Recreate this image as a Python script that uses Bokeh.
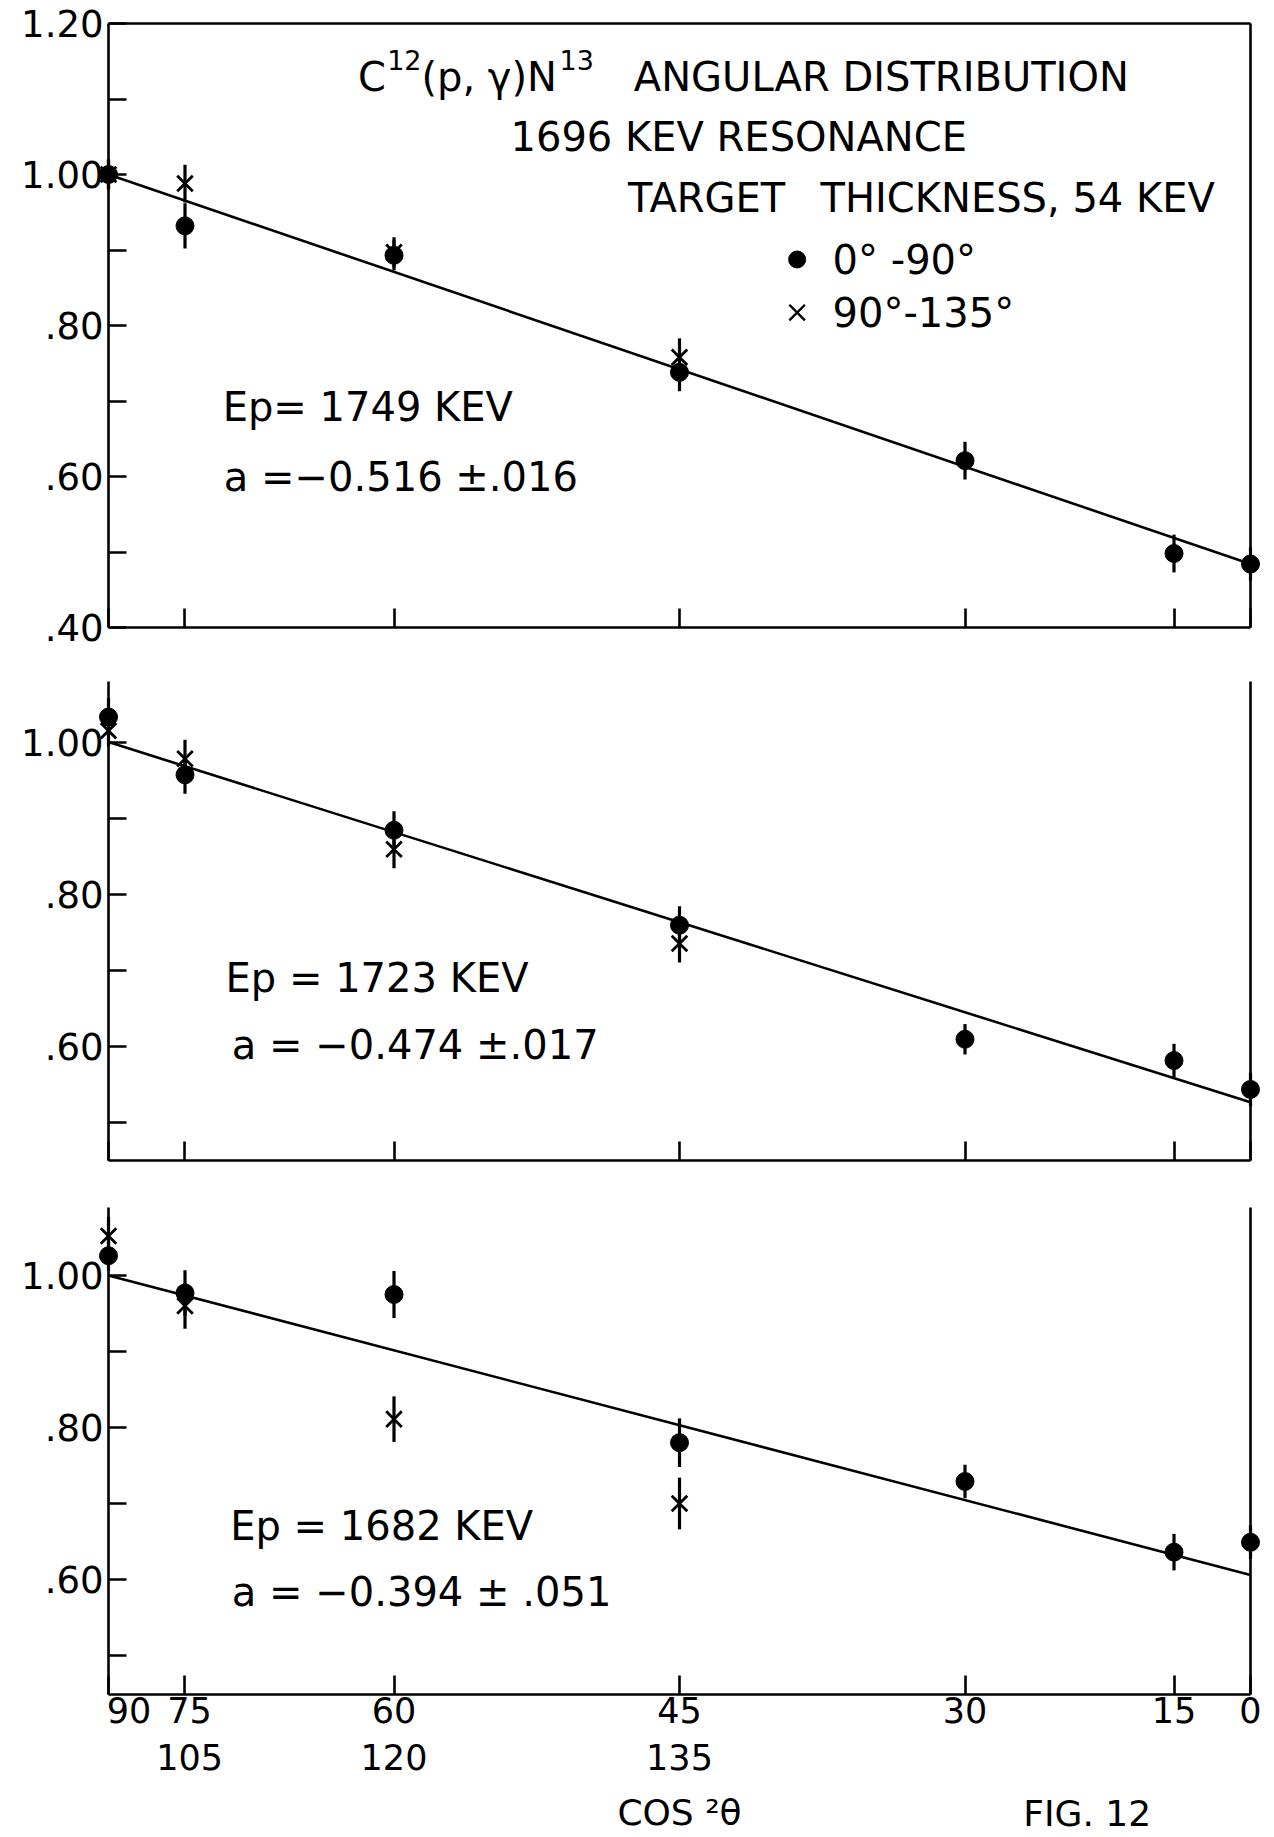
import json
import numpy as np
from bokeh.plotting import figure
from bokeh.layouts import column
from bokeh.models import (Range1d, LinearAxis, FixedTicker, CustomJSTickFormatter, Label)
from bokeh.embed import file_html
from bokeh.resources import INLINE

# ---------------- data ----------------
theta_front = [90, 75, 60, 45, 30, 15, 0]      # 0-90 deg detector angles
theta_back = [90, 105, 120, 135]               # 90-135 deg detector angles
x_row1 = ["90", "75", "60", "45", "30", "15", "0"]
x_row2 = ["", "105", "120", "135", "", "", ""]

fit_a = [-0.516, -0.474, -0.394]
a_text = ["a =\u22120.516 \u00b1.016", "a = \u22120.474 \u00b1.017", "a = \u22120.394 \u00b1 .051"]
ep_text = ["Ep= 1749 KEV", "Ep = 1723 KEV", "Ep = 1682 KEV"]

# Ep = 1749 keV
w1_front = [1.000, 0.932, 0.893, 0.738, 0.621, 0.498, 0.484]
e1_front = [0.020, 0.030, 0.020, 0.025, 0.025, 0.025, 0.022]
w1_back = [1.000, 0.988, 0.897, 0.758]
e1_back = [0.020, 0.025, 0.020, 0.025]
# Ep = 1723 keV
w2_front = [1.033, 0.957, 0.884, 0.759, 0.609, 0.581, 0.543]
e2_front = [0.025, 0.025, 0.025, 0.025, 0.020, 0.022, 0.022]
w2_back = [1.015, 0.978, 0.859, 0.735]
e2_back = [0.020, 0.025, 0.025, 0.025]
# Ep = 1682 keV
w3_front = [1.026, 0.977, 0.975, 0.780, 0.729, 0.636, 0.649]
e3_front = [0.020, 0.030, 0.031, 0.032, 0.022, 0.024, 0.022]
w3_back = [1.052, 0.960, 0.811, 0.700]
e3_back = [0.025, 0.030, 0.030, 0.034]

FONT = "DejaVu Sans"
LW = 2.6
XPX = 1142.0          # pixels per unit of cos^2(theta)
X_LEFT = 108          # pixel position of cos^2 = 0
W = 1274


def cos2(deg):
    return np.cos(np.radians(np.array(deg, dtype=float))) ** 2


xf = cos2(theta_front)
xb = cos2(theta_back)

y_fmt = CustomJSTickFormatter(code="""
var s = tick.toFixed(2);
return tick >= 1 ? s : s.slice(1);
""")
blank_fmt = CustomJSTickFormatter(code="return '';")


def map_fmt(xs, labels):
    m = {f"{float(x):.4f}": s for x, s in zip(xs, labels)}
    return CustomJSTickFormatter(code="var m = %s; var k = tick.toFixed(4); return (k in m) ? m[k] : '';" % json.dumps(m))


def line_axis(**kw):
    ax = LinearAxis(ticker=FixedTicker(ticks=[], minor_ticks=[]), formatter=blank_fmt, **kw)
    ax.axis_line_width = LW
    ax.major_tick_line_color = None
    ax.minor_tick_line_color = None
    ax.major_label_text_font_size = "1px"
    ax.major_label_standoff = 0
    return ax


def make_panel(height, y_top_px, ypx, y_ref, y_ref_px, major, minor, ybot, ytop, boxed):
    """Frame covers the whole canvas; axes are placed at fixed data locations."""
    y_hi = y_ref + (y_ref_px - y_top_px) / ypx
    y_lo = y_hi - height / ypx
    x_lo = -X_LEFT / XPX
    x_hi = x_lo + W / XPX
    p = figure(width=W, height=height, x_range=Range1d(x_lo, x_hi), y_range=Range1d(y_lo, y_hi),
               output_backend="svg", toolbar_location=None,
               x_axis_location=None, y_axis_location=None,
               min_border=0, min_border_left=0, min_border_right=0,
               min_border_top=0, min_border_bottom=0)
    p.grid.visible = False
    p.background_fill_color = "white"
    p.border_fill_color = "white"
    p.outline_line_color = None

    # left axis at cos^2 = 0
    ya = LinearAxis(ticker=FixedTicker(ticks=major, minor_ticks=minor), formatter=y_fmt,
                    fixed_location=0, bounds=(ybot, ytop))
    ya.axis_line_width = LW
    ya.major_tick_in = 18
    ya.major_tick_out = 0
    ya.minor_tick_in = 18
    ya.minor_tick_out = 0
    ya.major_tick_line_width = LW
    ya.minor_tick_line_width = LW
    ya.major_label_text_font = FONT
    ya.major_label_text_font_size = "37px"
    ya.major_label_text_color = "black"
    ya.major_label_standoff = 5
    p.add_layout(ya, "left")

    # right frame line at cos^2 = 1
    p.add_layout(line_axis(fixed_location=1, bounds=(ybot, ytop)), "right")
    if boxed:
        p.add_layout(line_axis(fixed_location=ytop, bounds=(0, 1)), "above")

    # bottom axis with inward ticks
    xa = LinearAxis(ticker=FixedTicker(ticks=list(xf), minor_ticks=[]), formatter=blank_fmt,
                    bounds=(0, 1), fixed_location=ybot)
    xa.axis_line_width = LW
    xa.major_tick_in = 19
    xa.major_tick_out = 0
    xa.major_tick_line_width = LW
    xa.major_label_standoff = 0
    xa.major_label_text_font_size = "1px"
    p.add_layout(xa, "below")
    return p


def draw_data(p, a, wf, ef, wb, eb):
    p.line([0, 1], [1.0, 1.0 + a], line_color="black", line_width=LW)
    wf = np.array(wf); ef = np.array(ef)
    wb = np.array(wb); eb = np.array(eb)
    p.segment(x0=xf, y0=wf - ef, x1=xf, y1=wf + ef, line_color="black", line_width=3.2)
    p.segment(x0=xb, y0=wb - eb, x1=xb, y1=wb + eb, line_color="black", line_width=3.2)
    p.scatter(xf, wf, marker="circle", size=18, fill_color="black", line_color="black")
    p.scatter(xb, wb, marker="x", size=22, line_color="black", line_width=2.8)


def txt(p, x, y, s, size="40px", align="left"):
    p.add_layout(Label(x=x, y=y, text=s, text_font=FONT, text_font_size=size,
                       text_baseline="middle", text_align=align, text_color="black"))


# ---------------- panel 1 (page y 0..660) ----------------
p1 = make_panel(660, 0, 755.0, 1.20, 23,
                [0.4, 0.6, 0.8, 1.0, 1.2], [0.5, 0.7, 0.9, 1.1], 0.40, 1.20, True)
draw_data(p1, fit_a[0], w1_front, e1_front, w1_back, e1_back)
# C^12(p,gamma)N^13 with raised mass numbers
txt(p1, 0.2185, 1.1285, "C")
txt(p1, 0.2440, 1.1510, "12", "27px")
txt(p1, 0.2740, 1.1285, "(p, \u03b3)N")
txt(p1, 0.3950, 1.1510, "13", "27px")
txt(p1, 0.460, 1.1285, "ANGULAR DISTRIBUTION")
txt(p1, 0.352, 1.050, "1696 KEV RESONANCE")
txt(p1, 0.455, 0.9695, "TARGET")
txt(p1, 0.6235, 0.9695, "THICKNESS, 54 KEV")
p1.scatter([0.603], [0.8874], marker="circle", size=17, fill_color="black", line_color="black")
p1.scatter([0.603], [0.8172], marker="x", size=22, line_color="black", line_width=2.4)
txt(p1, 0.634, 0.8874, "0\u00b0 -90\u00b0")
txt(p1, 0.634, 0.8172, "90\u00b0-135\u00b0")
txt(p1, 0.100, 0.692, ep_text[0])
txt(p1, 0.101, 0.599, a_text[0])

# ---------------- panel 2 (page y 660..1190) ----------------
p2 = make_panel(530, 660, 760.0, 1.00, 741.6,
                [0.6, 0.8, 1.0], [0.5, 0.7, 0.9], 0.45, 1.08, False)
draw_data(p2, fit_a[1], w2_front, e2_front, w2_back, e2_back)
txt(p2, 0.1025, 0.690, ep_text[1])
txt(p2, 0.108, 0.601, a_text[1])

# ---------------- panel 3 (page y 1190..1837) ----------------
Y3_BOT = 0.449
p3 = make_panel(647, 1190, 760.0, 1.00, 1275,
                [0.6, 0.8, 1.0], [0.5, 0.7, 0.9], Y3_BOT, 1.09, False)
draw_data(p3, fit_a[2], w3_front, e3_front, w3_back, e3_back)
txt(p3, 0.1066, 0.671, ep_text[2])
txt(p3, 0.108, 0.583, a_text[2])

# tick-label rows of the cos^2(theta) axis
lab_x = xf.copy()
lab_x[0] = 0.018
lab_x[1] = lab_x[1] + 0.004
row1 = LinearAxis(ticker=FixedTicker(ticks=list(lab_x), minor_ticks=[]), formatter=map_fmt(lab_x, x_row1),
                  fixed_location=Y3_BOT, bounds=(0, 1))
row2 = LinearAxis(ticker=FixedTicker(ticks=list(lab_x), minor_ticks=[]), formatter=map_fmt(lab_x, x_row2),
                  fixed_location=Y3_BOT, bounds=(0, 1), axis_label="COS \u00b2\u03b8")
for ax, so in ((row1, 3), (row2, 50)):
    ax.axis_line_color = None
    ax.major_tick_line_color = None
    ax.minor_tick_line_color = None
    ax.major_tick_out = 0
    ax.major_tick_in = 0
    ax.major_label_text_font = FONT
    ax.major_label_text_font_size = "35px"
    ax.major_label_text_color = "black"
    ax.major_label_standoff = so
row2.axis_label_text_font = FONT
row2.axis_label_text_font_size = "36px"
row2.axis_label_text_font_style = "normal"
row2.axis_label_text_color = "black"
row2.axis_label_standoff = 18
p3.add_layout(row1, "below")
p3.add_layout(row2, "below")
txt(p3, 0.857, Y3_BOT - (1813 - 1694) / 760, "FIG. 12", "36px", "center")

layout = column(p1, p2, p3, spacing=0)
open("out.html", "w").write(file_html(layout, INLINE))
